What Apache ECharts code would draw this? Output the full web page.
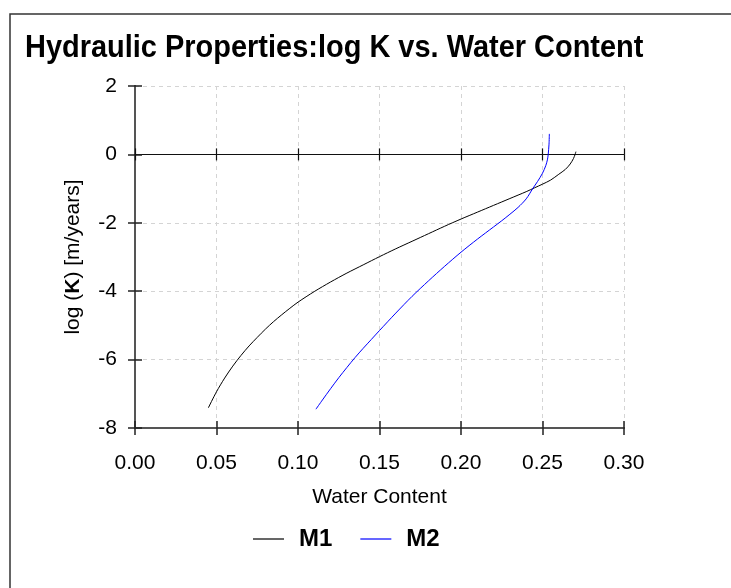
<!DOCTYPE html>
<html>
<head>
<meta charset="utf-8">
<style>
  html, body { margin: 0; padding: 0; background: #fff; }
  #chart { width: 731px; height: 588px; }
</style>
<script src="https://cdn.jsdelivr.net/npm/echarts@6/dist/echarts.min.js"></script>
</head>
<body>
<div id="chart"></div>
<script>
// Water content (θ) and log hydraulic conductivity for the two materials
const m1Theta = [0.045, 0.050, 0.055, 0.060, 0.065, 0.070, 0.075, 0.080, 0.085, 0.090, 0.095, 0.100,
                 0.110, 0.120, 0.130, 0.140, 0.150, 0.160, 0.170, 0.180, 0.190, 0.200, 0.210, 0.220,
                 0.230, 0.240, 0.245, 0.250, 0.255, 0.260, 0.264, 0.267, 0.269, 0.270, 0.2705];
const m1LogK  = [-7.41, -6.94, -6.54, -6.19, -5.88, -5.60, -5.35, -5.11, -4.89, -4.69, -4.50, -4.32,
                 -4.01, -3.73, -3.47, -3.23, -2.99, -2.76, -2.54, -2.32, -2.10, -1.89, -1.69, -1.49,
                 -1.29, -1.09, -0.98, -0.87, -0.75, -0.58, -0.44, -0.28, -0.12, 0.00, 0.08];

const m2Theta = [0.111, 0.115, 0.120, 0.125, 0.130, 0.135, 0.140, 0.145, 0.150, 0.160, 0.170, 0.180,
                 0.190, 0.200, 0.210, 0.220, 0.225, 0.230, 0.235, 0.240, 0.244, 0.247, 0.250, 0.252,
                 0.253, 0.2535, 0.254, 0.2542];
const m2LogK  = [-7.45, -7.18, -6.85, -6.53, -6.23, -5.94, -5.67, -5.41, -5.15, -4.64, -4.15, -3.70,
                 -3.27, -2.86, -2.48, -2.12, -1.94, -1.75, -1.55, -1.30, -1.00, -0.79, -0.55, -0.33,
                 -0.16, 0.00, 0.30, 0.60];

const seriesNames = ['M1', 'M2'];
const seriesColors = ['#000000', '#0000ff'];

const xMin = 0, xMax = 0.30, xStep = 0.05;
const yMin = -8, yMax = 2, yStep = 2;

const FONT = 'Liberation Sans, Arial, sans-serif';

function pairs(xs, ys) { return xs.map((x, i) => [x, ys[i]]); }

const chart = echarts.init(document.getElementById('chart'), null, { renderer: 'canvas' });

const xCommon = { type: 'value', min: xMin, max: xMax, interval: xStep, position: 'bottom' };
const yCommon = { type: 'value', min: yMin, max: yMax, interval: yStep, position: 'left' };

chart.setOption({
  animation: false,
  backgroundColor: '#fff',
  grid: { left: 135, right: 107, top: 86, bottom: 160 },
  graphic: [
    {
      type: 'rect', silent: true, z: -1,
      shape: { x: 10, y: 14, width: 760, height: 620 },
      style: { fill: 'none', stroke: '#333', lineWidth: 1.5 }
    },
    {
      type: 'text', left: 25, top: 32, scaleX: 0.905,
      style: {
        text: 'Hydraulic Properties:log K vs. Water Content',
        font: 'bold 32px ' + FONT, fill: '#000'
      }
    }
  ],
  legend: {
    data: seriesNames,
    left: 248, top: 522,
    icon: 'rect', itemWidth: 31, itemHeight: 1.2, itemGap: 28,
    textStyle: { fontFamily: FONT, fontSize: 24, fontWeight: 'bold', color: '#000', padding: [0, 0, 0, 10] }
  },
  xAxis: [
    Object.assign({}, xCommon, {
      name: 'Water Content', nameLocation: 'middle', nameGap: 59,
      nameTextStyle: { fontFamily: FONT, fontSize: 21, color: '#000' },
      axisLine: { show: true, onZero: false, lineStyle: { color: '#555', width: 2 } },
      axisTick: { show: true, inside: true, length: 7, lineStyle: { color: '#222', width: 1.5 } },
      axisLabel: { show: true, margin: 25, fontFamily: FONT, fontSize: 21, color: '#000',
                   formatter: v => v.toFixed(2) },
      splitLine: { show: true, lineStyle: { type: [4, 4], color: '#d4d4d4', width: 1 } }
    }),
    Object.assign({}, xCommon, {
      axisLine: { show: true, onZero: false, lineStyle: { color: '#555', width: 2 } },
      axisTick: { show: true, inside: false, length: 7, lineStyle: { color: '#222', width: 1.5 } },
      axisLabel: { show: false }, splitLine: { show: false }
    }),
    // zero line with ticks crossing it
    Object.assign({}, xCommon, {
      axisLine: { show: true, onZero: true, lineStyle: { color: '#111', width: 1.2 } },
      axisTick: { show: true, inside: true, length: 6, lineStyle: { color: '#111', width: 1.2 } },
      axisLabel: { show: false }, splitLine: { show: false }
    }),
    Object.assign({}, xCommon, {
      axisLine: { show: true, onZero: true, lineStyle: { color: '#111', width: 1.2 } },
      axisTick: { show: true, inside: false, length: 6, lineStyle: { color: '#111', width: 1.2 } },
      axisLabel: { show: false }, splitLine: { show: false }
    })
  ],
  yAxis: [
    Object.assign({}, yCommon, {
      name: 'log ({b|K}) [m/years]', nameLocation: 'middle', nameGap: 51, nameRotate: 90,
      nameTextStyle: {
        fontFamily: FONT, fontSize: 21, color: '#000',
        rich: { b: { fontFamily: FONT, fontSize: 21, fontWeight: 'bold', color: '#000' } }
      },
      axisLine: { show: true, onZero: false, lineStyle: { color: '#555', width: 2 } },
      axisTick: { show: true, inside: true, length: 7, lineStyle: { color: '#222', width: 1.5 } },
      axisLabel: { show: true, margin: 18, fontFamily: FONT, fontSize: 21, color: '#000' },
      splitLine: { show: true, lineStyle: { type: [4, 4], color: '#d4d4d4', width: 1 } }
    }),
    Object.assign({}, yCommon, {
      axisLine: { show: true, onZero: false, lineStyle: { color: '#555', width: 2 } },
      axisTick: { show: true, inside: false, length: 7, lineStyle: { color: '#222', width: 1.5 } },
      axisLabel: { show: false }, splitLine: { show: false }
    })
  ],
  series: [
    {
      name: seriesNames[0], type: 'line', xAxisIndex: 0, yAxisIndex: 0,
      data: pairs(m1Theta, m1LogK), showSymbol: false, smooth: 0.3,
      color: seriesColors[0], lineStyle: { color: seriesColors[0], width: 1 }, z: 5
    },
    {
      name: seriesNames[1], type: 'line', xAxisIndex: 0, yAxisIndex: 0,
      data: pairs(m2Theta, m2LogK), showSymbol: false, smooth: 0.3,
      color: seriesColors[1], lineStyle: { color: seriesColors[1], width: 1 }, z: 5
    }
  ]
});
</script>
</body>
</html>
